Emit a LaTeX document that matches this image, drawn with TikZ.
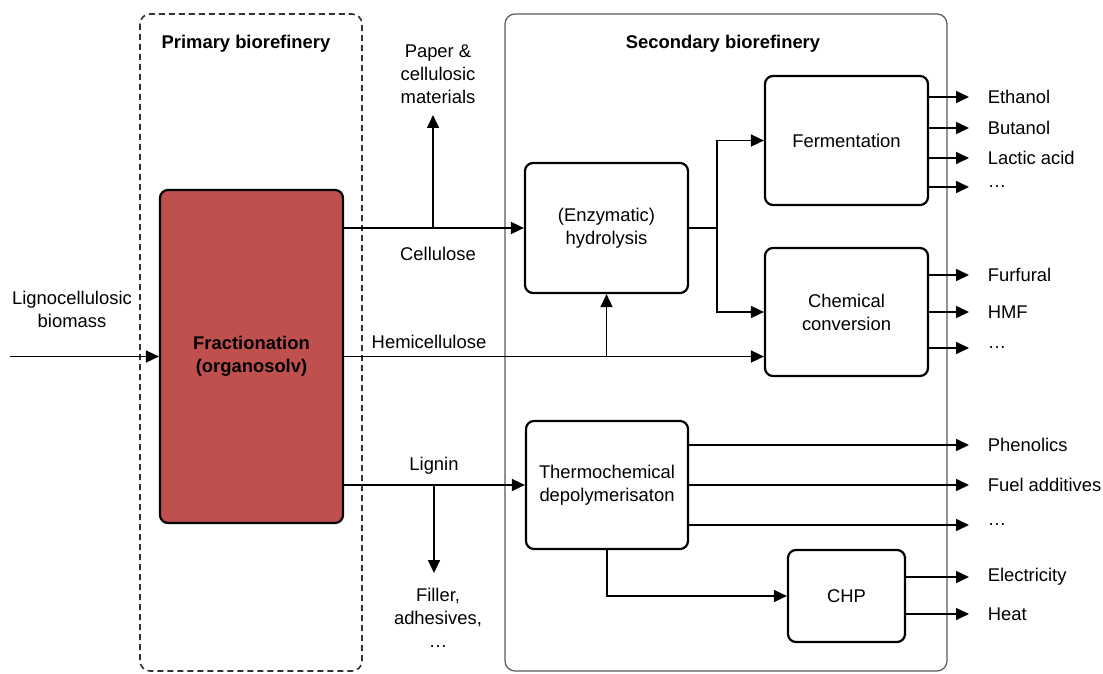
\documentclass[tikz,border=0pt]{standalone}
\usepackage{fontspec}
\setmainfont{Liberation Sans}
\usetikzlibrary{arrows.meta}
\definecolor{fracred}{HTML}{C0504D}
\begin{document}
\begin{tikzpicture}[x=0.5pt, y=-0.5pt, font=\fontsize{9.2}{11.5}\selectfont, line width=0.8pt,
  >={Triangle[length=6.5pt,width=6pt]},
  proc node/.style={draw, line width=1.1pt, rounded corners=4pt, align=center, inner sep=0pt},
  out node/.style={anchor=west, inner xsep=9pt, inner ysep=0pt},
  flow/.style={->}]
\useasboundingbox (0,0) rectangle (1103,674);
% the two refineries
\draw[dash pattern=on 3pt off 2pt, rounded corners=5pt, draw=black!80] (140,14) rectangle (362,671);
\draw[rounded corners=5pt, draw=black!65, line width=0.6pt] (505,14) rectangle (947,671);
\node[font=\fontsize{9.2}{11.5}\selectfont\bfseries] (primtitle) at (246,44) {Primary biorefinery};
\node[font=\fontsize{9.2}{11.5}\selectfont\bfseries] (sectitle) at (723,44) {Secondary biorefinery};
% process boxes
\node[proc node, fill=fracred, font=\fontsize{9.2}{11.5}\selectfont\bfseries, minimum width=91.5pt, minimum height=166.5pt] (frac) at (251.5,356.5) {Fractionation\\(organosolv)};
\node[proc node, minimum width=81.5pt, minimum height=65pt] (hydro) at (606.5,228) {(Enzymatic)\\hydrolysis};
\node[proc node, minimum width=81.5pt, minimum height=64.5pt] (ferm) at (846.5,140.5) {Fermentation};
\node[proc node, minimum width=81.5pt, minimum height=64pt] (chem) at (846.5,312) {Chemical\\conversion};
\node[proc node, minimum width=81pt, minimum height=64pt] (thermo) at (607,485) {Thermochemical\\depolymerisaton};
\node[proc node, minimum width=58.5pt, minimum height=46pt] (chp) at (846.5,596) {CHP};
% side streams
\node[align=center] (biomass) at (72,309) {Lignocellulosic\\biomass};
\node[align=center] (paper) at (438,74) {Paper \&\\cellulosic\\materials};
\node[align=center] (filler) at (438,618) {Filler,\\adhesives,\\\dots};
\node (cellulose) at (438,254) {Cellulose};
\node (hemi) at (429,342) {Hemicellulose};
\node (lignin) at (434,466) {Lignin};
\coordinate (src) at (10,356.5);
\coordinate (cbr) at (433,228);
\coordinate (paperin) at (433,115);
\coordinate (lbr) at (434,485);
\coordinate (fillerin) at (434,573);
\coordinate (split) at (717,228);
% streams
\draw[flow] (src) -- (frac.west);
\draw[flow] (frac.east |- hydro.west) -- (hydro.west);
\draw[flow] (cbr) -- (paperin);
\draw[flow] (frac.east) -- (frac.east -| chem.west);
\draw[flow] (hydro.south |- frac.east) -- (hydro.south);
\draw[flow] (frac.east |- thermo.west) -- (thermo.west);
\draw[flow] (lbr) -- (fillerin);
\draw (hydro.east) -- (split);
\draw[flow] (split) |- (ferm.west);
\draw[flow] (split) |- (chem.west);
\draw[flow] (thermo.south) |- (chp.west);
% products
\foreach \y/\txt [count=\i] in {97/Ethanol,128/Butanol,158/Lactic acid,187/\dots}{
  \node[out node] (fo\i) at (969,\y) {\txt};
  \draw[flow] (ferm.east |- fo\i.west) -- (fo\i.west);
}
\foreach \y/\txt [count=\i] in {275/Furfural,312/HMF,348/\dots}{
  \node[out node] (co\i) at (969,\y) {\txt};
  \draw[flow] (chem.east |- co\i.west) -- (co\i.west);
}
\foreach \y/\txt [count=\i] in {445/Phenolics,485/Fuel additives,525/\dots}{
  \node[out node] (to\i) at (969,\y) {\txt};
  \draw[flow] (thermo.east |- to\i.west) -- (to\i.west);
}
\foreach \y/\txt [count=\i] in {577/Electricity,614/Heat}{
  \node[out node] (ho\i) at (969,\y) {\txt};
  \draw[flow] (chp.east |- ho\i.west) -- (ho\i.west);
}
\end{tikzpicture}
\end{document}
